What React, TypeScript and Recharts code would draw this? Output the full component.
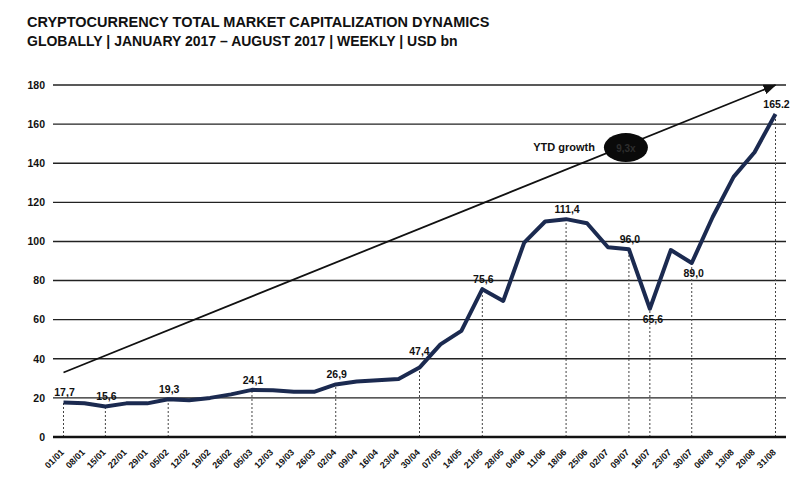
import {
  ComposedChart,
  Line,
  XAxis,
  YAxis,
  CartesianGrid,
  ReferenceLine,
  ReferenceDot,
} from 'recharts';

const weeks = [
  '01/01', '08/01', '15/01', '22/01', '29/01', '05/02', '12/02', '19/02', '26/02',
  '05/03', '12/03', '19/03', '26/03', '02/04', '09/04', '16/04', '23/04', '30/04',
  '07/05', '14/05', '21/05', '28/05', '04/06', '11/06', '18/06', '25/06', '02/07',
  '09/07', '16/07', '23/07', '30/07', '06/08', '13/08', '20/08', '31/08',
];

// total market cap, USD bn
const marketCap = [
  17.7, 17.3, 15.6, 17.2, 17.2, 19.3, 18.8, 20.0, 21.8,
  24.1, 23.9, 23.2, 23.2, 26.9, 28.4, 29.0, 29.7, 35.5,
  47.4, 54.3, 75.6, 69.6, 99.4, 110.2, 111.4, 109.3, 97.0,
  96.0, 65.6, 95.6, 89.0, 112.5, 133.0, 145.6, 165.2,
];

const trendFrom = 33;
const trendTo = 180;
const yTicks = [0, 20, 40, 60, 80, 100, 120, 140, 160, 180];

// weeks that get a value label / a dotted drop line
const labelWeeks = ['01/01', '15/01', '05/02', '05/03', '02/04', '07/05', '21/05', '18/06', '09/07', '16/07', '30/07', '31/08'];
const dropWeeks = ['01/01', '15/01', '05/02', '05/03', '02/04', '30/04', '21/05', '18/06', '09/07', '16/07', '30/07', '31/08'];
const ytdGrowth = '9,3x';

const last = weeks.length - 1;
const data = weeks.map((week, i) => ({
  week,
  cap: marketCap[i],
  trend: i === 0 ? trendFrom : i === last ? trendTo : null,
}));

const FONT = '"Liberation Sans", Arial, sans-serif';
const NAVY = '#1b2a50';

// label placement tweaks (dx, baseline dy)
const labelPos: Record<string, [number, number]> = {
  '07/05': [-21, 11],
  '16/07': [3, 14],
  '30/07': [2, 14],
};

function fmt(v: number, i: number) {
  const s = v.toFixed(1);
  return i === last ? s : s.replace('.', ',');
}

function ValueLabel(props: any) {
  const { cx, cy, index, payload } = props;
  if (!labelWeeks.includes(payload.week)) return <g key={index} />;
  const [dx, dy] = labelPos[payload.week] ?? [1, -6];
  return (
    <text
      key={index}
      x={cx + dx}
      y={cy + dy}
      textAnchor="middle"
      fontFamily={FONT}
      fontWeight="bold"
      fontSize={10.5}
      fill="#111"
    >
      {fmt(payload.cap, index)}
    </text>
  );
}

function WeekTick(props: any) {
  const { x, y, payload } = props;
  const px = x + 1;
  const py = y + 8;
  return (
    <text
      x={px}
      y={py}
      transform={`rotate(-45, ${px}, ${py})`}
      textAnchor="end"
      fontFamily={FONT}
      fontWeight="bold"
      fontSize={9}
      fill="#111"
    >
      {payload.value}
    </text>
  );
}

function GrowthBadge(props: any) {
  const { cx, cy } = props;
  return (
    <g>
      <text x={cx - 34} y={cy + 3} textAnchor="end" fontFamily={FONT} fontWeight="bold" fontSize={11} fill="#111">
        YTD growth
      </text>
      <ellipse cx={cx - 3} cy={cy} rx={22} ry={14.5} fill="#0a0a0a" />
      <text x={cx - 3} y={cy + 4} textAnchor="middle" fontFamily={FONT} fontWeight="bold" fontSize={10} fill="#2e2e2e">
        {ytdGrowth}
      </text>
    </g>
  );
}

export default function App() {
  return (
    <div style={{ position: 'absolute', left: 0, top: 0, width: 800, height: 481, background: '#fff' }}>
      <div
        style={{
          position: 'absolute',
          left: 27,
          top: 13,
          fontFamily: FONT,
          fontWeight: 'bold',
          lineHeight: '19px',
          color: '#111',
          whiteSpace: 'nowrap',
        }}
      >
        <div style={{ fontSize: 14.5 }}>CRYPTOCURRENCY TOTAL MARKET CAPITALIZATION DYNAMICS</div>
        <div style={{ fontSize: 14 }}>GLOBALLY | JANUARY 2017 – AUGUST 2017 | WEEKLY | USD bn</div>
      </div>
      <ComposedChart
        width={800}
        height={481}
        data={data}
        margin={{ top: 85, right: 14, bottom: 0, left: 0 }}
        style={{ position: 'absolute', left: 0, top: 0 }}
      >
        <defs>
          <marker id="arrowHead" markerWidth={13} markerHeight={10} refX={12} refY={5} orient="auto" markerUnits="userSpaceOnUse">
            <path d="M0,0 L13,5 L0,10 z" fill="#111" />
          </marker>
        </defs>
        <CartesianGrid vertical={false} stroke="#222" strokeWidth={1.4} />
        <XAxis
          dataKey="week"
          interval={0}
          height={44}
          padding={{ left: 10.5, right: 10.5 }}
          tickLine={false}
          axisLine={{ stroke: '#111', strokeWidth: 2.5 }}
          tick={<WeekTick />}
        />
        <YAxis
          width={53}
          domain={[0, 180]}
          ticks={yTicks}
          tickLine={false}
          axisLine={false}
          tick={{ fontFamily: FONT, fontWeight: 'bold', fontSize: 10.5, fill: '#111' }}
        />
        {dropWeeks.map((w) => (
          <ReferenceLine
            key={w}
            segment={[
              { x: w, y: 0 },
              { x: w, y: marketCap[weeks.indexOf(w)] },
            ]}
            stroke="#444"
            strokeWidth={1}
            strokeDasharray="2 2"
          />
        ))}
        <Line
          dataKey="trend"
          connectNulls
          stroke="#111"
          strokeWidth={1.8}
          dot={false}
          activeDot={false}
          markerEnd="url(#arrowHead)"
          isAnimationActive={false}
        />
        <ReferenceDot x="09/07" y={148} r={0} shape={<GrowthBadge />} />
        <Line
          dataKey="cap"
          stroke={NAVY}
          strokeWidth={4}
          strokeLinejoin="round"
          dot={(p: any) => <ValueLabel key={p.index} {...p} />}
          activeDot={false}
          isAnimationActive={false}
        />
      </ComposedChart>
    </div>
  );
}
